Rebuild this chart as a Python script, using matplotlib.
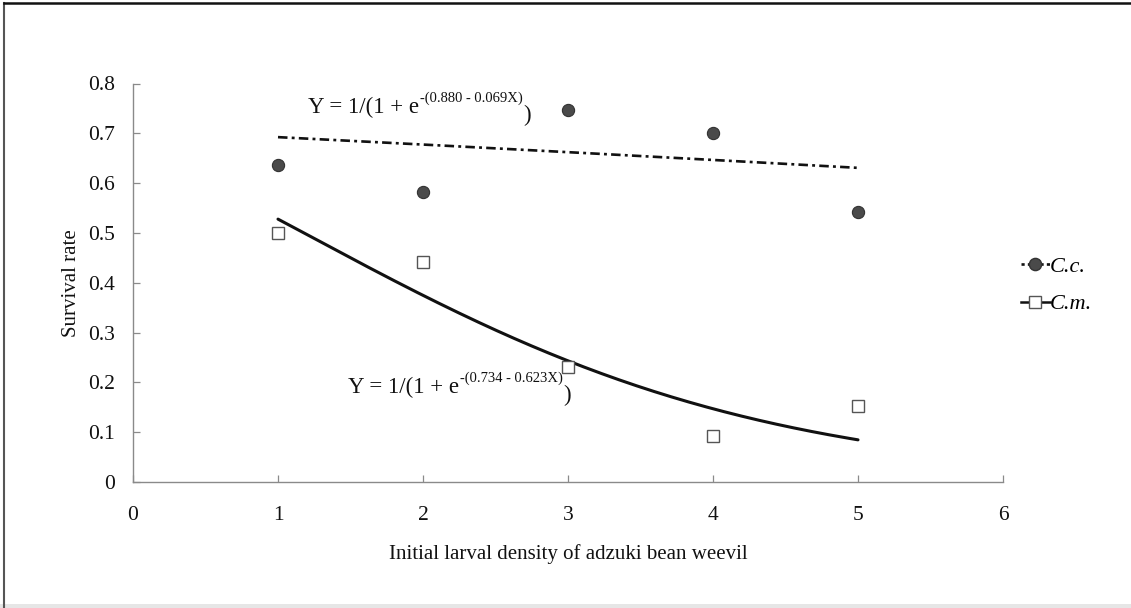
import numpy as np
import matplotlib
matplotlib.use("Agg")
import matplotlib.pyplot as plt
from matplotlib.lines import Line2D

plt.rcParams["font.family"] = ["Liberation Serif", "DejaVu Serif"]

# Observed survival rates at each initial larval density
density = [1, 2, 3, 4, 5]
survival_cc = [0.637, 0.582, 0.747, 0.701, 0.542]
survival_cm = [0.500, 0.442, 0.231, 0.092, 0.153]

# Logistic fit coefficients: Y = 1/(1 + exp(-(a - b*X)))
coef_cc = [0.880, 0.069]
coef_cm = [0.734, 0.623]

x_ticks = [0, 1, 2, 3, 4, 5, 6]
y_ticks = [0, 0.1, 0.2, 0.3, 0.4, 0.5, 0.6, 0.7, 0.8]
y_tick_labels = ["0", "0.1", "0.2", "0.3", "0.4", "0.5", "0.6", "0.7", "0.8"]


def logistic(x, a, b):
    return 1.0 / (1.0 + np.exp(-(a - b * x)))


W, H = 1131, 608
fig = plt.figure(figsize=(W / 100, H / 100), dpi=100)
ax = fig.add_axes([133 / W, 1 - 482 / H, (1003 - 133) / W, (482 - 83.5) / H])

xs = np.linspace(density[0], density[-1], 200)
dash_col = "#111111"
ax.plot(xs, logistic(xs, *coef_cc), color=dash_col, lw=1.9,
        dashes=(3.6, 1.6, 1.1, 1.6), solid_capstyle="butt")
ax.plot(xs, logistic(xs, *coef_cm), color="#111111", lw=2.2,
        solid_capstyle="round")

ax.plot(density, survival_cc, ls="none", marker="o", ms=8.8,
        mfc="#4a4a4a", mec="#333333", mew=0.8)
ax.plot(density, survival_cm, ls="none", marker="s", ms=8.2,
        mfc="white", mec="#555555", mew=1.0)

ax.set_xlim(0, 6)
ax.set_ylim(0, 0.8)
ax.set_xticks(x_ticks)
ax.set_yticks(y_ticks)
ax.set_yticklabels(y_tick_labels)
for s in ("top", "right"):
    ax.spines[s].set_visible(False)
for s in ("left", "bottom"):
    ax.spines[s].set_color("#8a8a8a")
    ax.spines[s].set_linewidth(1.0)
ax.tick_params(axis="both", direction="in", length=5, width=0.9,
               color="#8a8a8a", labelsize=15.5, labelcolor="#111111")
ax.tick_params(axis="y", pad=13)
ax.tick_params(axis="x", pad=17)

ax.set_ylabel("Survival rate", fontsize=15, labelpad=5, color="#111111")
ax.set_xlabel("Initial larval density of adzuki bean weevil", fontsize=15,
              labelpad=14, color="#111111")


def equation(x, y, sup):
    t1 = ax.text(x, y, "Y = 1/(1 + e", fontsize=16.5, va="baseline",
                 color="#111111")
    t2 = ax.annotate(sup, xy=(1.0, 0.0), xycoords=t1, xytext=(0.5, 12),
                     textcoords="offset points", fontsize=10.5,
                     va="baseline", ha="left", color="#111111")
    ax.annotate(")", xy=(1.0, 0.0), xycoords=t2, xytext=(0.5, -12),
                textcoords="offset points", fontsize=16.5, va="baseline",
                ha="left", color="#111111")


px_per_unit = (482 - 83.5) / 0.8
equation((308 - 133) / 145, (482 - 113) / px_per_unit,
         "-(%.3f - %.3fX)" % tuple(coef_cc))
equation((348 - 133) / 145, (482 - 393) / px_per_unit,
         "-(%.3f - %.3fX)" % tuple(coef_cm))

handles = [
    Line2D([], [], color=dash_col, lw=1.9, dashes=(1.2, 1.2), marker="o",
           ms=8.8, mfc="#4a4a4a", mec="#333333"),
    Line2D([], [], color="#111111", lw=1.8, marker="s", ms=8.2,
           mfc="white", mec="#555555"),
]
leg = fig.legend(handles, ["C.c.", "C.m."], loc="center left",
                 bbox_to_anchor=(1001 / W, 1 - 285.5 / H), frameon=False,
                 handlelength=1.3, handletextpad=0.0, labelspacing=0.75,
                 prop={"family": "Liberation Serif", "style": "italic",
                       "size": 16})

# page frame around the figure
fig.add_artist(Line2D([3.5 / W, 3.5 / W], [0, 1 - 3 / H],
                      transform=fig.transFigure, color="#555555", lw=1.5))
fig.add_artist(Line2D([3.5 / W, 1], [1 - 3 / H, 1 - 3 / H],
                      transform=fig.transFigure, color="#111111", lw=1.8))
fig.add_artist(plt.Rectangle((0, 0), 1, 4 / H, transform=fig.transFigure,
                             color="#e6e6e6", lw=0))

fig.savefig("out.png", dpi=100)
